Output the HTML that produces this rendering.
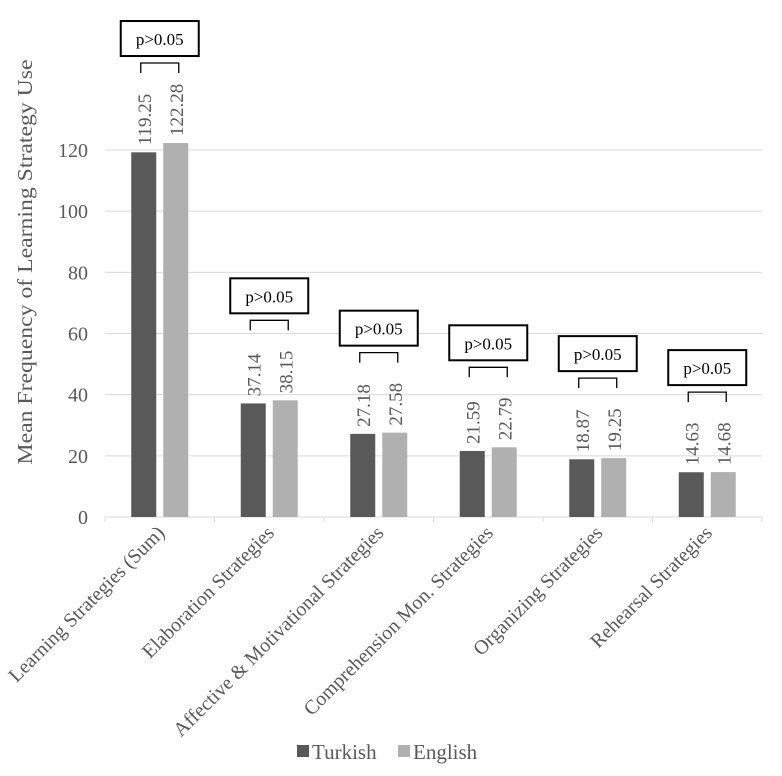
<!DOCTYPE html>
<html><head><meta charset="utf-8"><style>
html,body{margin:0;padding:0;background:#fff;}
svg text{font-family:"Liberation Serif",serif;fill:#595959;}
</style></head><body>
<svg id="chart" width="782" height="771" xmlns="http://www.w3.org/2000/svg"></svg>
<script>
const categories=["Learning Strategies (Sum)","Elaboration Strategies","Affective & Motivational Strategies","Comprehension Mon. Strategies","Organizing Strategies","Rehearsal Strategies"];
const turkish=[119.25,37.14,27.18,21.59,18.87,14.63];
const english=[122.28,38.15,27.58,22.79,19.25,14.68];
const yTicks=[0,20,40,60,80,100,120];
const pLabels=["p>0.05","p>0.05","p>0.05","p>0.05","p>0.05","p>0.05"];
const svg=document.getElementById('chart');
const NS='http://www.w3.org/2000/svg';
const x0=105,x1=762,y0=517,pxPerUnit=367/120;
const band=(x1-x0)/categories.length;
const yScale=v=>y0-v*pxPerUnit;
const xCenter=i=>x0+band*(i+0.5);
function mk(t,a,parent){const e=document.createElementNS(NS,t);for(const k in a)e.setAttribute(k,a[k]);(parent||svg).appendChild(e);return e;}
yTicks.forEach(v=>{
  if(v>0){const g=mk('line',{x1:x0,x2:x1,y1:yScale(v),y2:yScale(v),stroke:'#d9d9d9','stroke-width':1});
  
  }
  const t=mk('text',{x:88,y:yScale(v)+7,'text-anchor':'end','font-size':20});t.textContent=v;
  
  
});
const ax=mk('line',{x1:x0,x2:x1,y1:y0,y2:y0,stroke:'#d9d9d9','stroke-width':1});


for(let i=0;i<=categories.length;i++){const tk=mk('line',{x1:x0+band*i,x2:x0+band*i,y1:y0,y2:y0+5,stroke:'#d9d9d9'});

}
const yl=mk('text',{x:0,y:0,transform:'translate(32,262) rotate(-90)','text-anchor':'middle','font-size':21,textLength:405,lengthAdjust:'spacingAndGlyphs'});yl.textContent='Mean Frequency of Learning Strategy Use';


const bw=25,gap=7;
categories.forEach((c,i)=>{
  const cx=xCenter(i);
  const xs=[cx-gap/2-bw,cx+gap/2];const vals=[turkish[i],english[i]];const cols=['#595959','#b0b0b0'];
  vals.forEach((v,j)=>{
    const r=mk('rect',{x:xs[j],y:yScale(v),width:bw,height:v*pxPerUnit,fill:cols[j]});
    
    
    const lx=xs[j]+bw/2+7,ly=yScale(v)-7;
    const t=mk('text',{x:0,y:0,transform:`translate(${lx},${ly}) rotate(-90)`,'font-size':19});t.textContent=v.toFixed(2);
    
    
  });
  const top=Math.min(yScale(vals[0]),yScale(vals[1]))-70;
  const bx1=xs[0]+bw/2-3,bx2=xs[1]+bw/2+3;
  const br=mk('path',{d:`M${bx1},${top} V${top-10} H${bx2} V${top}`,fill:'none',stroke:'#000','stroke-width':1.3});
  
  
  const bb=top-17;
  const box=mk('rect',{x:cx-39,y:bb-35,width:78,height:35,fill:'#fff',stroke:'#000','stroke-width':2});
  
  
  const pt=mk('text',{x:cx,y:bb-11,'text-anchor':'middle','font-size':17,style:'fill:#000'});pt.textContent=pLabels[i];
  
  
  const ct=mk('text',{x:0,y:0,transform:`translate(${cx+6},${y0+17}) rotate(-45)`,'text-anchor':'end','font-size':20});ct.textContent=c;
  
  
});
const leg=[['Turkish','#595959',297],['English','#b0b0b0',398]];
leg.forEach(l=>{
  const s=mk('rect',{x:l[2],y:745,width:12,height:12,fill:l[1]});
  
  
  const t=mk('text',{x:l[2]+15,y:759,'font-size':21});t.textContent=l[0];
  
  
});
</script>
</body></html>
